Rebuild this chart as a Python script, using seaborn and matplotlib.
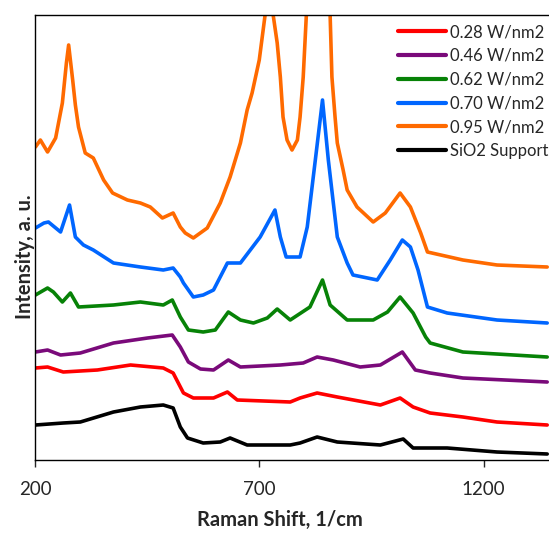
import matplotlib
matplotlib.use("Agg")
import matplotlib.pyplot as plt
import seaborn as sns
import pandas as pd

# ---- data ----
labels = ["0.28 W/nm2", "0.46 W/nm2", "0.62 W/nm2", "0.70 W/nm2", "0.95 W/nm2", "SiO2 Support"]
colors = ["#FF0000", "#7A0A7A", "#078207", "#0066FF", "#FF6A00", "#000000"]

x_028 = [201, 228, 263, 339, 413, 486, 508, 531, 553, 598, 629, 651, 769, 791, 829, 874, 970, 1014, 1043, 1081, 1154, 1230, 1342]
y_028 = [92, 93, 88, 90, 95, 92, 87, 67, 62, 62, 68, 60, 58, 62, 67, 63, 55, 62, 53, 47, 43, 38, 35]

x_046 = [201, 228, 257, 301, 375, 451, 506, 524, 542, 569, 598, 631, 658, 747, 798, 829, 865, 925, 970, 1019, 1048, 1081, 1154, 1342]
y_046 = [108, 110, 105, 107, 117, 122, 125, 113, 98, 91, 90, 100, 93, 95, 97, 103, 100, 93, 95, 108, 90, 87, 82, 78]

x_062 = [201, 228, 241, 261, 279, 297, 375, 435, 486, 506, 524, 542, 575, 602, 618, 631, 658, 687, 718, 740, 769, 813, 841, 858, 896, 954, 986, 1014, 1043, 1071, 1081, 1154, 1342]
y_062 = [165, 172, 168, 158, 167, 153, 155, 158, 155, 160, 143, 130, 128, 130, 140, 148, 140, 137, 142, 151, 140, 153, 180, 155, 140, 140, 148, 163, 147, 123, 117, 108, 103]

x_070 = [201, 220, 230, 257, 277, 290, 308, 330, 375, 435, 486, 508, 524, 531, 553, 575, 598, 629, 658, 680, 702, 735, 747, 760, 791, 807, 825, 841, 854, 874, 896, 909, 963, 992, 1019, 1037, 1054, 1075, 1119, 1230, 1342]
y_070 = [232, 237, 238, 228, 255, 223, 215, 210, 197, 193, 190, 192, 183, 177, 163, 165, 170, 197, 197, 210, 223, 250, 223, 203, 203, 233, 300, 360, 300, 223, 197, 185, 180, 200, 220, 213, 190, 153, 147, 140, 137]

x_095 = [201, 212, 228, 246, 261, 270, 275, 284, 290, 297, 312, 330, 353, 373, 406, 435, 457, 484, 508, 524, 535, 553, 584, 613, 635, 658, 673, 684, 700, 713, 722, 731, 740, 747, 753, 762, 773, 785, 791, 798, 805, 830, 858, 862, 869, 874, 887, 896, 918, 954, 981, 1014, 1037, 1060, 1075, 1154, 1230, 1342]
y_095 = [313, 320, 308, 322, 357, 397, 415, 380, 355, 333, 307, 302, 280, 267, 260, 257, 253, 242, 247, 233, 227, 222, 232, 257, 283, 317, 350, 367, 400, 445, 540, 445, 417, 383, 343, 320, 310, 320, 343, 383, 445, 700, 445, 383, 343, 317, 290, 270, 253, 238, 247, 267, 253, 227, 208, 200, 195, 193]

x_sio2 = [201, 263, 301, 375, 435, 486, 508, 524, 540, 575, 613, 635, 673, 769, 791, 829, 874, 970, 1021, 1043, 1119, 1230, 1342]
y_sio2 = [35, 37, 38, 48, 53, 55, 52, 33, 22, 17, 18, 22, 15, 15, 17, 23, 18, 15, 21, 12, 12, 8, 6]

xticks = [200, 700, 1200]

series_x = [x_028, x_046, x_062, x_070, x_095, x_sio2]
series_y = [y_028, y_046, y_062, y_070, y_095, y_sio2]
frames = []
for lab, xs, ys in zip(labels, series_x, series_y):
    frames.append(pd.DataFrame({"shift": xs, "intensity": ys, "series": lab}))
df = pd.concat(frames, ignore_index=True)

# ---- figure ----
sns.set_style("white")
plt.rcParams["font.family"] = ["Lato", "DejaVu Sans"]

W, H = 549, 538
fig = plt.figure(figsize=(W / 100, H / 100), dpi=100)
ax = fig.add_axes([35 / W, (H - 460) / H, (W - 35) / W, (460 - 15) / H])

sns.lineplot(data=df, x="shift", y="intensity", hue="series", hue_order=labels,
             palette=dict(zip(labels, colors)), estimator=None, sort=False,
             linewidth=2.6, ax=ax)

ax.set_xlim(200, 1346)
ax.set_ylim(0, 445)
ax.set_xticks(xticks)
ax.set_xticklabels([str(t) for t in xticks], fontsize=13.5)
ax.set_yticks([])
ax.tick_params(axis="x", direction="out", length=5, width=1, pad=10, bottom=True)

for s in ["left", "bottom", "top"]:
    ax.spines[s].set_visible(True)
    ax.spines[s].set_color("black")
    ax.spines[s].set_linewidth(1.0)
ax.spines["right"].set_visible(False)

ax.set_xlabel("Raman Shift, 1/cm", fontsize=14.5, fontweight="bold")
ax.set_ylabel("Intensity, a. u.", fontsize=14.5, fontweight="bold")
ax.xaxis.set_label_coords(0.477, -0.112)
ax.yaxis.set_label_coords(0.0, 0.456)

ax.get_legend().remove()
handles, labs = ax.get_legend_handles_labels()
leg = fig.legend(handles, labs, loc="upper left", bbox_to_anchor=(398 / W, 1 - 24 / H),
                 frameon=False, fontsize=12, handlelength=2.85, handletextpad=0.25,
                 labelspacing=0.47, borderpad=0, borderaxespad=0)
for l in leg.get_lines():
    l.set_linewidth(3)

fig.savefig("out.png", dpi=100)
